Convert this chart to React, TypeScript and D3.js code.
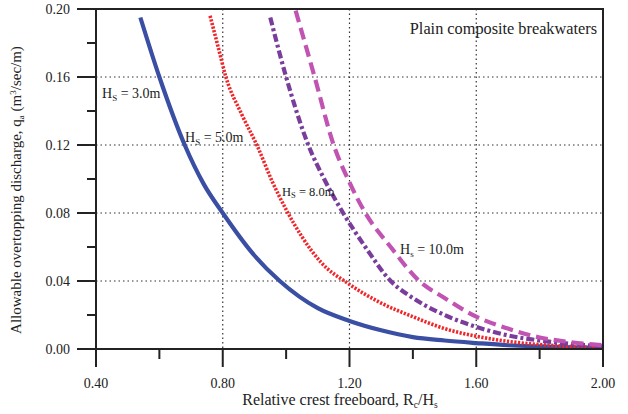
import React from 'react';
import * as d3 from 'd3';

// curve readings (Rc/Hs, q)
const hs3X = [0.54, 0.60, 0.68, 0.74, 0.80, 0.90, 0.98, 1.10, 1.20, 1.30, 1.40, 1.50, 1.60, 1.70, 1.80, 1.90, 2.00];
const hs3Q = [0.195, 0.160, 0.120, 0.097, 0.080, 0.055, 0.040, 0.024, 0.0165, 0.011, 0.007, 0.005, 0.0035, 0.0022, 0.0015, 0.001, 0.0007];

const hs5X = [0.76, 0.785, 0.81, 0.86, 0.91, 0.955, 1.00, 1.05, 1.11, 1.20, 1.30, 1.40, 1.50, 1.60, 1.70, 1.80, 1.90, 2.00];
const hs5Q = [0.196, 0.178, 0.160, 0.138, 0.119, 0.099, 0.082, 0.066, 0.051, 0.038, 0.027, 0.019, 0.012, 0.0075, 0.0045, 0.0026, 0.0015, 0.0008];

const hs8X = [0.95, 1.00, 1.07, 1.12, 1.18, 1.25, 1.33, 1.40, 1.50, 1.60, 1.70, 1.80, 1.90, 2.00];
const hs8Q = [0.195, 0.160, 0.120, 0.100, 0.080, 0.060, 0.040, 0.030, 0.020, 0.013, 0.008, 0.005, 0.003, 0.0015];

const hs10X = [1.03, 1.09, 1.15, 1.20, 1.25, 1.33, 1.42, 1.50, 1.60, 1.70, 1.80, 1.90, 2.00];
const hs10Q = [0.199, 0.160, 0.120, 0.098, 0.080, 0.060, 0.040, 0.030, 0.019, 0.012, 0.0068, 0.0040, 0.0022];

const xTicks = [0.4, 0.8, 1.2, 1.6, 2.0];
const xMinor = [0.6, 1.0, 1.4, 1.8];
const yTicks = [0, 0.04, 0.08, 0.12, 0.16, 0.2];
const yMinor = [0.02, 0.06, 0.1, 0.14, 0.18];

const W = 628;
const H = 414;
const font = "'Liberation Serif', 'Times New Roman', Times, 'DejaVu Serif', serif";

export default function App() {
  const x = d3.scaleLinear().domain([0.4, 2.0]).range([96, 603]);
  const y = d3.scaleLinear().domain([0, 0.2]).range([349, 9]);

  const line = d3.line<[number, number]>()
    .x(d => x(d[0]))
    .y(d => y(d[1]))
    .curve(d3.curveMonotoneX);

  const zip = (xs: number[], qs: number[]) => xs.map((v, i) => [v, qs[i]] as [number, number]);

  const series = [
    { d: zip(hs3X, hs3Q), color: '#3a4ea3', width: 4.2, dash: undefined },
    { d: zip(hs5X, hs5Q), color: '#f0262a', width: 3.6, dash: '2.2,1.5' },
    { d: zip(hs8X, hs8Q), color: '#7a3d9c', width: 4.2, dash: '8,3,3,3' },
    { d: zip(hs10X, hs10Q), color: '#c153b3', width: 4.2, dash: '12,6' },
  ];

  const fmt = d3.format('.2f');
  const ts = { fontFamily: font };

  return (
    <svg width={W} height={H} style={{ position: 'absolute', left: 0, top: 0, background: '#fff', fontFamily: font }}>
      <defs>
        <clipPath id="plot">
          <rect x={96} y={9} width={507} height={340} />
        </clipPath>
      </defs>

      {/* grid */}
      {xTicks.slice(1, -1).map(t => (
        <line key={'gx' + t} x1={x(t)} x2={x(t)} y1={y(0.2)} y2={y(0)}
          stroke="#333" strokeWidth={1.2} strokeDasharray="1.5,3" />
      ))}
      {yTicks.slice(1, -1).map(t => (
        <line key={'gy' + t} x1={x(0.4)} x2={x(2.0)} y1={y(t)} y2={y(t)}
          stroke="#333" strokeWidth={1.2} strokeDasharray="1.5,3" />
      ))}

      {/* curves */}
      <g clipPath="url(#plot)">
        {series.map((s, i) => (
          <path key={i} d={line(s.d) || ''} fill="none" stroke={s.color}
            strokeWidth={s.width} strokeDasharray={s.dash} />
        ))}
      </g>

      {/* frame */}
      <rect x={x(0.4)} y={y(0.2)} width={x(2.0) - x(0.4)} height={y(0) - y(0.2)}
        fill="none" stroke="#222" strokeWidth={2} />

      {/* y ticks */}
      {yTicks.map(t => (
        <g key={'yt' + t}>
          <line x1={77} x2={96} y1={y(t)} y2={y(t)} stroke="#222" strokeWidth={2} />
          <text style={ts} x={70} y={y(t)} dy="0.35em" textAnchor="end" fontSize={14} fill="#222">{fmt(t)}</text>
        </g>
      ))}
      {yMinor.map(t => (
        <line key={'ym' + t} x1={87} x2={96} y1={y(t)} y2={y(t)} stroke="#222" strokeWidth={2} />
      ))}

      {/* x ticks */}
      {xTicks.map(t => (
        <g key={'xt' + t}>
          <line x1={x(t)} x2={x(t)} y1={349} y2={367} stroke="#222" strokeWidth={2} />
          <text style={ts} x={x(t)} y={388} textAnchor="middle" fontSize={14} fill="#222">{fmt(t)}</text>
        </g>
      ))}
      {xMinor.map(t => (
        <line key={'xm' + t} x1={x(t)} x2={x(t)} y1={349} y2={359} stroke="#222" strokeWidth={2} />
      ))}

      {/* axis titles */}
      <text style={ts} x={340} y={405} textAnchor="middle" fontSize={16} fill="#222">
        Relative crest freeboard, R<tspan fontSize={9.5} dy={3}>c</tspan><tspan dy={-3}>/H</tspan><tspan fontSize={9.5} dy={3}>s</tspan>
      </text>
      <text style={ts} transform="translate(21,190) rotate(-90)" textAnchor="middle" fontSize={15} fill="#222">
        Allowable overtopping discharge, q<tspan fontSize={9} dy={3}>a</tspan><tspan dy={-3}> (m</tspan><tspan fontSize={9} dy={-5}>3</tspan><tspan dy={5}>/sec/m)</tspan>
      </text>

      {/* annotations */}
      <text style={ts} x={597} y={34} textAnchor="end" fontSize={16.3} fill="#222">Plain composite breakwaters</text>
      <text style={ts} x={102} y={98} fontSize={14} fill="#222">H<tspan fontSize={9} dy={3}>S</tspan><tspan dy={-3}> = 3.0m</tspan></text>
      <text style={ts} x={185} y={142} fontSize={14} fill="#222">H<tspan fontSize={9} dy={3}>S</tspan><tspan dy={-3}> = 5.0m</tspan></text>
      <text style={ts} x={282} y={196} fontSize={12.5} fill="#222">H<tspan fontSize={8.5} dy={2}>S</tspan><tspan dy={-2}> = 8.0m</tspan></text>
      <text style={ts} x={400} y={254} fontSize={14} fill="#222">H<tspan fontSize={9} dy={3}>s</tspan><tspan dy={-3}> = 10.0m</tspan></text>
    </svg>
  );
}
